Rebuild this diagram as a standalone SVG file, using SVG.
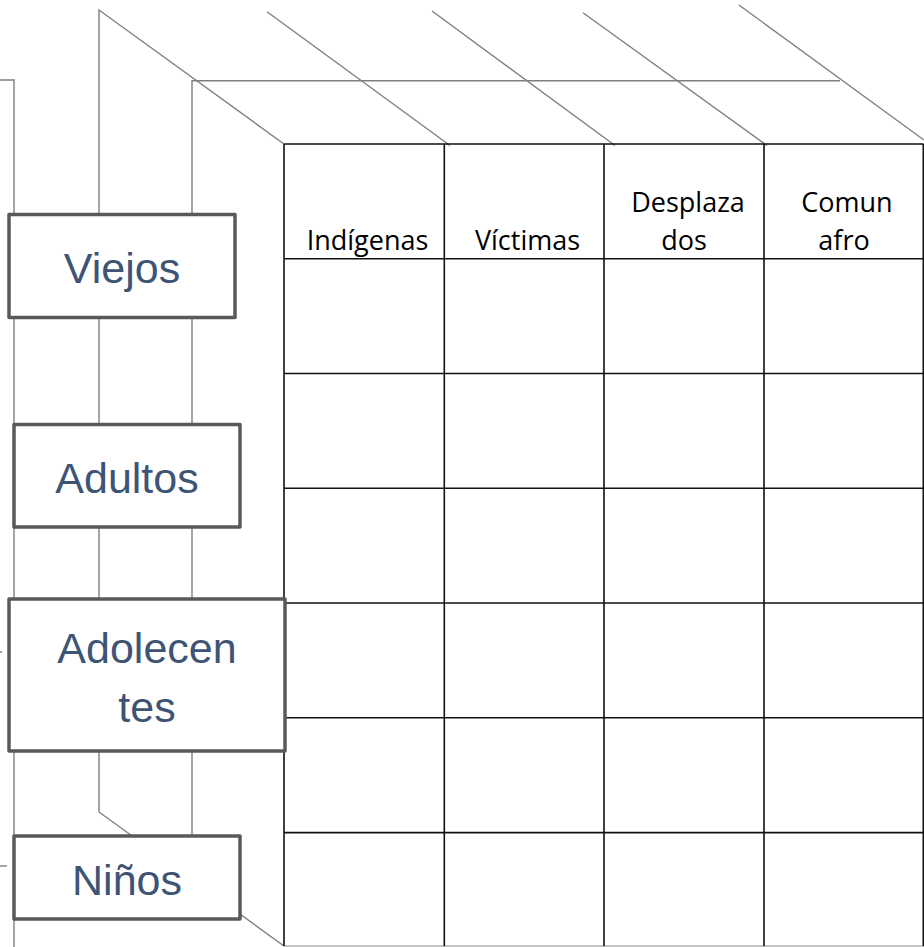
<svg xmlns="http://www.w3.org/2000/svg" width="924" height="947" viewBox="0 0 924 947">
<style>
.bk{stroke:#7f7f7f;stroke-width:1.4;fill:none}
.tb{stroke:#111;stroke-width:1.6;fill:none}
.box{fill:#fff;stroke:#595959;stroke-width:3.5;stroke-linejoin:round}
.lbl{font-family:"Liberation Sans",Arial,sans-serif;font-size:43px;fill:#3e5475;text-anchor:middle}
.hd{font-family:"Open Sans","Liberation Sans",sans-serif;font-size:27px;fill:#000;text-anchor:middle}
</style>
<rect width="924" height="947" fill="#fff"/>
<g id="connectors">
  <path class="bk" d="M0 80 H14 V947"/>
  <path class="bk" d="M0 652 H2"/>
  <path class="bk" d="M0 866 H7"/>
  <path class="bk" d="M284 144 L99 10 V812 L284 946"/>
  <path class="bk" d="M192 836 V80.7 H840"/>
  <path class="bk" d="M267 11.7 L450 145.5"/>
  <path class="bk" d="M432 11 L615 145.5"/>
  <path class="bk" d="M583 12.7 L767 145.5"/>
  <path class="bk" d="M739 5 L924 140"/>
  <path d="M284 946 H924" stroke="#b0b0b0" stroke-width="1.4"/>
</g>
<g id="table">
  <path class="tb" d="M284 144 H923.5 M284 258.7 H923.5 M284 373.5 H923.5 M284 488.3 H923.5 M284 603 H923.5 M284 717.8 H923.5 M284 832.6 H923.5"/>
  <path class="tb" d="M284 144 V946 M444.3 144 V946 M604 144 V946 M764 144 V946 M923.3 144 V946"/>
  <text class="hd" x="367.5" y="250">Indígenas</text>
  <text class="hd" x="527.5" y="250">Víctimas</text>
  <text class="hd" x="688" y="212">Desplaza</text>
  <text class="hd" x="684" y="250">dos</text>
  <text class="hd" x="847" y="212">Comun</text>
  <text class="hd" x="844" y="250">afro</text>
</g>
<g id="viejos">
  <rect class="box" x="9" y="214.5" width="226" height="103"/>
  <text class="lbl" x="122" y="283">Viejos</text>
</g>
<g id="adultos">
  <rect class="box" x="14" y="424.5" width="226" height="102.5"/>
  <text class="lbl" x="127" y="493">Adultos</text>
</g>
<g id="adolecentes">
  <rect class="box" x="9" y="599" width="276" height="152"/>
  <text class="lbl" x="147" y="663">Adolecen</text>
  <text class="lbl" x="147" y="722">tes</text>
</g>
<g id="ninos">
  <rect class="box" x="14" y="836" width="226" height="83"/>
  <text class="lbl" x="127" y="895">Niños</text>
</g>
</svg>
